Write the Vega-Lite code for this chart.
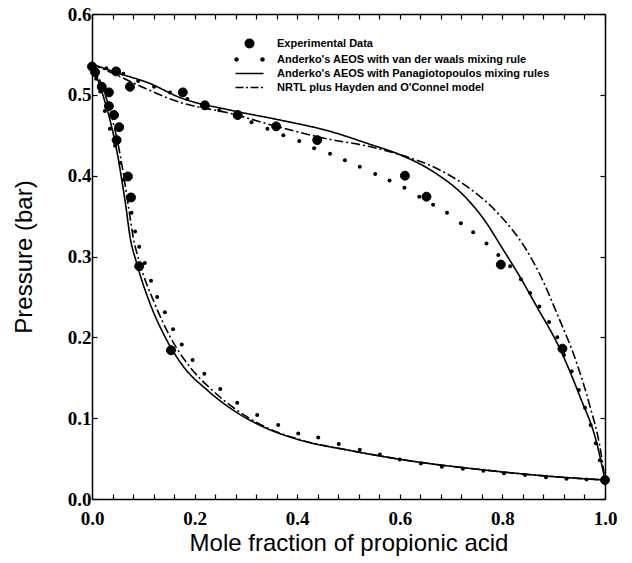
{
  "$schema": "https://vega.github.io/schema/vega-lite/v6.json",
  "width": 513,
  "height": 485,
  "autosize": "none",
  "padding": {"left": 92, "top": 14, "right": 27, "bottom": 64},
  "background": "white",
  "datasets": {
    "exp": [
      {"x": 0.000, "p": 0.535}, {"x": 0.006, "p": 0.528}, {"x": 0.019, "p": 0.510}, {"x": 0.033, "p": 0.503},
      {"x": 0.033, "p": 0.486}, {"x": 0.043, "p": 0.475}, {"x": 0.053, "p": 0.460}, {"x": 0.048, "p": 0.444},
      {"x": 0.070, "p": 0.399}, {"x": 0.076, "p": 0.373}, {"x": 0.092, "p": 0.288}, {"x": 0.154, "p": 0.184},
      {"x": 0.047, "p": 0.529}, {"x": 0.074, "p": 0.510}, {"x": 0.177, "p": 0.503}, {"x": 0.220, "p": 0.487},
      {"x": 0.284, "p": 0.475}, {"x": 0.359, "p": 0.461}, {"x": 0.439, "p": 0.444}, {"x": 0.610, "p": 0.400},
      {"x": 0.652, "p": 0.374}, {"x": 0.797, "p": 0.290}, {"x": 0.917, "p": 0.186}, {"x": 1.000, "p": 0.0235}
    ],
    "vdw": [
      {"x": 0.028, "p": 0.533}, {"x": 0.061, "p": 0.526}, {"x": 0.090, "p": 0.517}, {"x": 0.121, "p": 0.510},
      {"x": 0.152, "p": 0.503}, {"x": 0.186, "p": 0.495}, {"x": 0.216, "p": 0.488}, {"x": 0.248, "p": 0.481},
      {"x": 0.279, "p": 0.474}, {"x": 0.311, "p": 0.466}, {"x": 0.342, "p": 0.458}, {"x": 0.373, "p": 0.450},
      {"x": 0.404, "p": 0.443}, {"x": 0.433, "p": 0.434}, {"x": 0.464, "p": 0.427}, {"x": 0.493, "p": 0.419},
      {"x": 0.522, "p": 0.411}, {"x": 0.552, "p": 0.402}, {"x": 0.580, "p": 0.394}, {"x": 0.609, "p": 0.385},
      {"x": 0.638, "p": 0.374}, {"x": 0.665, "p": 0.364}, {"x": 0.692, "p": 0.354}, {"x": 0.719, "p": 0.341},
      {"x": 0.743, "p": 0.330}, {"x": 0.769, "p": 0.316}, {"x": 0.792, "p": 0.302}, {"x": 0.815, "p": 0.288},
      {"x": 0.836, "p": 0.272}, {"x": 0.854, "p": 0.255}, {"x": 0.872, "p": 0.238}, {"x": 0.891, "p": 0.219},
      {"x": 0.907, "p": 0.200}, {"x": 0.920, "p": 0.178}, {"x": 0.935, "p": 0.158}, {"x": 0.949, "p": 0.135},
      {"x": 0.961, "p": 0.113}, {"x": 0.972, "p": 0.0916}, {"x": 0.982, "p": 0.069}, {"x": 0.990, "p": 0.048},
      {"x": 0.008, "p": 0.520}, {"x": 0.016, "p": 0.504}, {"x": 0.025, "p": 0.480}, {"x": 0.035, "p": 0.458},
      {"x": 0.045, "p": 0.437}, {"x": 0.055, "p": 0.416}, {"x": 0.062, "p": 0.395}, {"x": 0.070, "p": 0.374},
      {"x": 0.077, "p": 0.354}, {"x": 0.084, "p": 0.331}, {"x": 0.092, "p": 0.312}, {"x": 0.103, "p": 0.292},
      {"x": 0.115, "p": 0.270}, {"x": 0.127, "p": 0.250}, {"x": 0.142, "p": 0.231}, {"x": 0.158, "p": 0.210},
      {"x": 0.175, "p": 0.191}, {"x": 0.196, "p": 0.172}, {"x": 0.219, "p": 0.155}, {"x": 0.250, "p": 0.136},
      {"x": 0.283, "p": 0.119}, {"x": 0.322, "p": 0.104}, {"x": 0.363, "p": 0.0916}, {"x": 0.402, "p": 0.081},
      {"x": 0.441, "p": 0.076}, {"x": 0.481, "p": 0.068}, {"x": 0.522, "p": 0.061}, {"x": 0.561, "p": 0.055},
      {"x": 0.600, "p": 0.049}, {"x": 0.641, "p": 0.044}, {"x": 0.682, "p": 0.040}, {"x": 0.723, "p": 0.0375},
      {"x": 0.763, "p": 0.035}, {"x": 0.803, "p": 0.032}, {"x": 0.844, "p": 0.0297}, {"x": 0.885, "p": 0.027},
      {"x": 0.925, "p": 0.025}, {"x": 0.964, "p": 0.024}
    ],
    "lines": [
      {"series": "Anderko's AEOS with Panagiotopoulos mixing rules", "branch": "Pu", "x": 0.000, "p": 0.538},
      {"series": "Anderko's AEOS with Panagiotopoulos mixing rules", "branch": "Pu", "x": 0.050, "p": 0.527},
      {"series": "Anderko's AEOS with Panagiotopoulos mixing rules", "branch": "Pu", "x": 0.113, "p": 0.514},
      {"series": "Anderko's AEOS with Panagiotopoulos mixing rules", "branch": "Pu", "x": 0.170, "p": 0.497},
      {"series": "Anderko's AEOS with Panagiotopoulos mixing rules", "branch": "Pu", "x": 0.270, "p": 0.481},
      {"series": "Anderko's AEOS with Panagiotopoulos mixing rules", "branch": "Pu", "x": 0.365, "p": 0.469},
      {"series": "Anderko's AEOS with Panagiotopoulos mixing rules", "branch": "Pu", "x": 0.463, "p": 0.455},
      {"series": "Anderko's AEOS with Panagiotopoulos mixing rules", "branch": "Pu", "x": 0.541, "p": 0.439},
      {"series": "Anderko's AEOS with Panagiotopoulos mixing rules", "branch": "Pu", "x": 0.600, "p": 0.426},
      {"series": "Anderko's AEOS with Panagiotopoulos mixing rules", "branch": "Pu", "x": 0.665, "p": 0.405},
      {"series": "Anderko's AEOS with Panagiotopoulos mixing rules", "branch": "Pu", "x": 0.730, "p": 0.372},
      {"series": "Anderko's AEOS with Panagiotopoulos mixing rules", "branch": "Pu", "x": 0.765, "p": 0.345},
      {"series": "Anderko's AEOS with Panagiotopoulos mixing rules", "branch": "Pu", "x": 0.800, "p": 0.310},
      {"series": "Anderko's AEOS with Panagiotopoulos mixing rules", "branch": "Pu", "x": 0.835, "p": 0.274},
      {"series": "Anderko's AEOS with Panagiotopoulos mixing rules", "branch": "Pu", "x": 0.867, "p": 0.238},
      {"series": "Anderko's AEOS with Panagiotopoulos mixing rules", "branch": "Pu", "x": 0.912, "p": 0.186},
      {"series": "Anderko's AEOS with Panagiotopoulos mixing rules", "branch": "Pu", "x": 0.951, "p": 0.127},
      {"series": "Anderko's AEOS with Panagiotopoulos mixing rules", "branch": "Pu", "x": 0.984, "p": 0.069},
      {"series": "Anderko's AEOS with Panagiotopoulos mixing rules", "branch": "Pu", "x": 1.000, "p": 0.0235},
      {"series": "Anderko's AEOS with Panagiotopoulos mixing rules", "branch": "Pl", "x": 0.000, "p": 0.538},
      {"series": "Anderko's AEOS with Panagiotopoulos mixing rules", "branch": "Pl", "x": 0.016, "p": 0.510},
      {"series": "Anderko's AEOS with Panagiotopoulos mixing rules", "branch": "Pl", "x": 0.035, "p": 0.469},
      {"series": "Anderko's AEOS with Panagiotopoulos mixing rules", "branch": "Pl", "x": 0.048, "p": 0.432},
      {"series": "Anderko's AEOS with Panagiotopoulos mixing rules", "branch": "Pl", "x": 0.058, "p": 0.395},
      {"series": "Anderko's AEOS with Panagiotopoulos mixing rules", "branch": "Pl", "x": 0.066, "p": 0.362},
      {"series": "Anderko's AEOS with Panagiotopoulos mixing rules", "branch": "Pl", "x": 0.074, "p": 0.325},
      {"series": "Anderko's AEOS with Panagiotopoulos mixing rules", "branch": "Pl", "x": 0.087, "p": 0.292},
      {"series": "Anderko's AEOS with Panagiotopoulos mixing rules", "branch": "Pl", "x": 0.113, "p": 0.242},
      {"series": "Anderko's AEOS with Panagiotopoulos mixing rules", "branch": "Pl", "x": 0.142, "p": 0.201},
      {"series": "Anderko's AEOS with Panagiotopoulos mixing rules", "branch": "Pl", "x": 0.178, "p": 0.164},
      {"series": "Anderko's AEOS with Panagiotopoulos mixing rules", "branch": "Pl", "x": 0.224, "p": 0.135},
      {"series": "Anderko's AEOS with Panagiotopoulos mixing rules", "branch": "Pl", "x": 0.275, "p": 0.110},
      {"series": "Anderko's AEOS with Panagiotopoulos mixing rules", "branch": "Pl", "x": 0.340, "p": 0.0875},
      {"series": "Anderko's AEOS with Panagiotopoulos mixing rules", "branch": "Pl", "x": 0.405, "p": 0.073},
      {"series": "Anderko's AEOS with Panagiotopoulos mixing rules", "branch": "Pl", "x": 0.503, "p": 0.060},
      {"series": "Anderko's AEOS with Panagiotopoulos mixing rules", "branch": "Pl", "x": 0.633, "p": 0.046},
      {"series": "Anderko's AEOS with Panagiotopoulos mixing rules", "branch": "Pl", "x": 0.763, "p": 0.036},
      {"series": "Anderko's AEOS with Panagiotopoulos mixing rules", "branch": "Pl", "x": 0.893, "p": 0.028},
      {"series": "Anderko's AEOS with Panagiotopoulos mixing rules", "branch": "Pl", "x": 1.000, "p": 0.0235},
      {"series": "NRTL plus Hayden and O'Connel model", "branch": "Nu", "x": 0.000, "p": 0.538},
      {"series": "NRTL plus Hayden and O'Connel model", "branch": "Nu", "x": 0.050, "p": 0.524},
      {"series": "NRTL plus Hayden and O'Connel model", "branch": "Nu", "x": 0.100, "p": 0.509},
      {"series": "NRTL plus Hayden and O'Connel model", "branch": "Nu", "x": 0.170, "p": 0.491},
      {"series": "NRTL plus Hayden and O'Connel model", "branch": "Nu", "x": 0.270, "p": 0.477},
      {"series": "NRTL plus Hayden and O'Connel model", "branch": "Nu", "x": 0.365, "p": 0.460},
      {"series": "NRTL plus Hayden and O'Connel model", "branch": "Nu", "x": 0.463, "p": 0.445},
      {"series": "NRTL plus Hayden and O'Connel model", "branch": "Nu", "x": 0.541, "p": 0.436},
      {"series": "NRTL plus Hayden and O'Connel model", "branch": "Nu", "x": 0.600, "p": 0.426},
      {"series": "NRTL plus Hayden and O'Connel model", "branch": "Nu", "x": 0.665, "p": 0.411},
      {"series": "NRTL plus Hayden and O'Connel model", "branch": "Nu", "x": 0.730, "p": 0.387},
      {"series": "NRTL plus Hayden and O'Connel model", "branch": "Nu", "x": 0.795, "p": 0.351},
      {"series": "NRTL plus Hayden and O'Connel model", "branch": "Nu", "x": 0.847, "p": 0.308},
      {"series": "NRTL plus Hayden and O'Connel model", "branch": "Nu", "x": 0.876, "p": 0.274},
      {"series": "NRTL plus Hayden and O'Connel model", "branch": "Nu", "x": 0.906, "p": 0.230},
      {"series": "NRTL plus Hayden and O'Connel model", "branch": "Nu", "x": 0.945, "p": 0.168},
      {"series": "NRTL plus Hayden and O'Connel model", "branch": "Nu", "x": 0.971, "p": 0.114},
      {"series": "NRTL plus Hayden and O'Connel model", "branch": "Nu", "x": 0.990, "p": 0.065},
      {"series": "NRTL plus Hayden and O'Connel model", "branch": "Nu", "x": 1.000, "p": 0.0235},
      {"series": "NRTL plus Hayden and O'Connel model", "branch": "Nl", "x": 0.000, "p": 0.538},
      {"series": "NRTL plus Hayden and O'Connel model", "branch": "Nl", "x": 0.020, "p": 0.510},
      {"series": "NRTL plus Hayden and O'Connel model", "branch": "Nl", "x": 0.040, "p": 0.469},
      {"series": "NRTL plus Hayden and O'Connel model", "branch": "Nl", "x": 0.053, "p": 0.432},
      {"series": "NRTL plus Hayden and O'Connel model", "branch": "Nl", "x": 0.063, "p": 0.395},
      {"series": "NRTL plus Hayden and O'Connel model", "branch": "Nl", "x": 0.071, "p": 0.362},
      {"series": "NRTL plus Hayden and O'Connel model", "branch": "Nl", "x": 0.080, "p": 0.325},
      {"series": "NRTL plus Hayden and O'Connel model", "branch": "Nl", "x": 0.093, "p": 0.292},
      {"series": "NRTL plus Hayden and O'Connel model", "branch": "Nl", "x": 0.122, "p": 0.242},
      {"series": "NRTL plus Hayden and O'Connel model", "branch": "Nl", "x": 0.152, "p": 0.201},
      {"series": "NRTL plus Hayden and O'Connel model", "branch": "Nl", "x": 0.190, "p": 0.164},
      {"series": "NRTL plus Hayden and O'Connel model", "branch": "Nl", "x": 0.232, "p": 0.136},
      {"series": "NRTL plus Hayden and O'Connel model", "branch": "Nl", "x": 0.280, "p": 0.111},
      {"series": "NRTL plus Hayden and O'Connel model", "branch": "Nl", "x": 0.340, "p": 0.0885},
      {"series": "NRTL plus Hayden and O'Connel model", "branch": "Nl", "x": 0.405, "p": 0.0735},
      {"series": "NRTL plus Hayden and O'Connel model", "branch": "Nl", "x": 0.503, "p": 0.060},
      {"series": "NRTL plus Hayden and O'Connel model", "branch": "Nl", "x": 0.633, "p": 0.046},
      {"series": "NRTL plus Hayden and O'Connel model", "branch": "Nl", "x": 0.763, "p": 0.036},
      {"series": "NRTL plus Hayden and O'Connel model", "branch": "Nl", "x": 0.893, "p": 0.028},
      {"series": "NRTL plus Hayden and O'Connel model", "branch": "Nl", "x": 1.000, "p": 0.0235}
    ]
  },
  "layer": [
    {
      "data": {"name": "lines"},
      "mark": {"type": "line", "color": "black", "strokeWidth": 1.6, "interpolate": "monotone"},
      "encoding": {
        "x": {
          "field": "x", "type": "quantitative",
          "scale": {"domain": [0, 1], "nice": false, "zero": false},
          "axis": {
            "orient": "bottom",
            "title": "Mole fraction of propionic acid",
            "values": [0, 0.04, 0.08, 0.12, 0.16, 0.2, 0.24, 0.28, 0.32, 0.36, 0.4, 0.44, 0.48, 0.52, 0.56, 0.6, 0.64, 0.68, 0.72, 0.76, 0.8, 0.84, 0.88, 0.92, 0.96, 1.0],
            "labelExpr": "abs(datum.value * 5 - round(datum.value * 5)) < 0.001 ? format(datum.value, '.1f') : ''",
            "labelPadding": 15,
            "titlePadding": 3
          }
        },
        "y": {
          "field": "p", "type": "quantitative",
          "scale": {"domain": [0, 0.6], "nice": false, "zero": false},
          "axis": {
            "orient": "left",
            "title": "Pressure (bar)",
            "values": [0, 0.1, 0.2, 0.3, 0.4, 0.5, 0.6],
            "format": ".1f",
            "labelPadding": 6,
            "titlePadding": 31
          }
        },
        "detail": {"field": "branch"},
        "order": {"field": "x", "type": "quantitative"},
        "strokeDash": {
          "field": "series", "type": "nominal",
          "scale": {
            "domain": ["Anderko's AEOS with Panagiotopoulos mixing rules", "NRTL plus Hayden and O'Connel model"],
            "range": [[1, 0], [9, 3, 2, 3]]
          },
          "legend": null
        }
      }
    },
    {
      "data": {"name": "vdw"},
      "mark": {"type": "point", "filled": true, "shape": "circle", "size": 16, "color": "black", "opacity": 1},
      "encoding": {
        "x": {
          "field": "x", "type": "quantitative",
          "axis": {
            "orient": "top", "title": null, "labels": false,
            "values": [0, 0.04, 0.08, 0.12, 0.16, 0.2, 0.24, 0.28, 0.32, 0.36, 0.4, 0.44, 0.48, 0.52, 0.56, 0.6, 0.64, 0.68, 0.72, 0.76, 0.8, 0.84, 0.88, 0.92, 0.96, 1.0]
          }
        },
        "y": {
          "field": "p", "type": "quantitative",
          "axis": {"orient": "right", "title": null, "labels": false, "values": [0, 0.1, 0.2, 0.3, 0.4, 0.5, 0.6]}
        }
      }
    },
    {
      "data": {"name": "exp"},
      "transform": [{"calculate": "'Experimental Data'", "as": "series"}],
      "mark": {"type": "point", "filled": true, "size": 80, "fill": "black", "stroke": "black", "strokeWidth": 1, "opacity": 1},
      "encoding": {
        "x": {"field": "x", "type": "quantitative", "axis": null},
        "y": {"field": "p", "type": "quantitative", "axis": null},
        "shape": {
          "field": "series", "type": "nominal",
          "scale": {
            "domain": ["Experimental Data", "Anderko's AEOS with van der waals mixing rule", "Anderko's AEOS with Panagiotopoulos mixing rules", "NRTL plus Hayden and O'Connel model"],
            "range": [
              "circle",
              "M-3.05,0A0.45,0.45,0,1,0,-2.15,0A0.45,0.45,0,1,0,-3.05,0ZM2.15,0A0.45,0.45,0,1,0,3.05,0A0.45,0.45,0,1,0,2.15,0Z",
              "M-2.8,-0.15H2.8V0.15H-2.8Z",
              "M-2.8,-0.15H-1.2V0.15H-2.8ZM-0.7,-0.15H-0.3V0.15H-0.7ZM0.2,-0.15H1.8V0.15H0.2ZM2.3,-0.15H2.7V0.15H2.3Z"
            ]
          },
          "legend": {"title": null}
        }
      }
    }
  ],
  "resolve": {"axis": {"x": "independent", "y": "independent"}},
  "config": {
    "view": {"stroke": null},
    "axis": {
      "domainColor": "black",
      "domainWidth": 1.5,
      "tickColor": "black",
      "tickWidth": 1.2,
      "tickSize": -5,
      "grid": false,
      "labelFlush": false,
      "labelFont": "Liberation Serif",
      "labelFontSize": 19,
      "labelFontWeight": "bold",
      "labelColor": "black",
      "labelPadding": 4,
      "titleFont": "Liberation Sans",
      "titleFontSize": 24,
      "titleFontWeight": "normal",
      "titleColor": "black"
    },
    "legend": {
      "orient": "none",
      "legendX": 152,
      "legendY": 24,
      "labelFont": "Liberation Sans",
      "labelFontSize": 11,
      "labelFontWeight": "bold",
      "labelColor": "black",
      "labelLimit": 0,
      "labelOffset": 22,
      "symbolSize": 100,
      "symbolFillColor": "black",
      "symbolStrokeColor": "black",
      "symbolStrokeWidth": 1,
      "symbolOpacity": 1,
      "rowPadding": 2,
      "padding": 0
    }
  }
}
